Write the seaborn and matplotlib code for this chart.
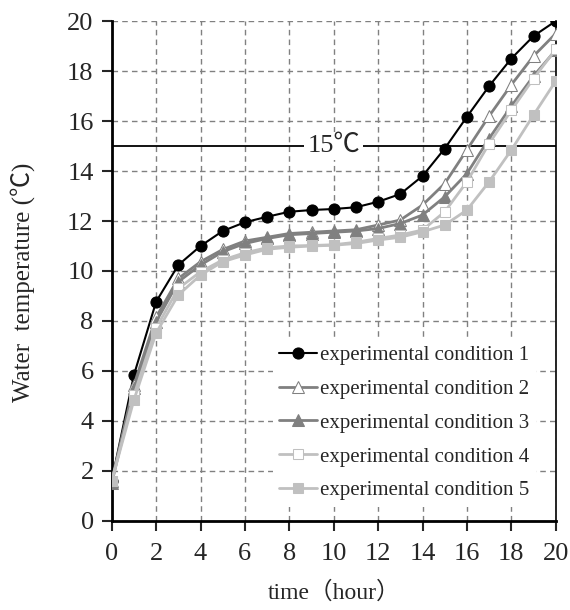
import pandas as pd
import matplotlib
matplotlib.use('Agg')
import matplotlib.pyplot as plt
import seaborn as sns

# data
hours = list(range(0, 21))
cond1 = [1.6, 5.84, 8.77, 10.24, 11.0, 11.6, 11.95, 12.17, 12.37, 12.44, 12.48,
         12.55, 12.77, 13.08, 13.8, 14.9, 16.17, 17.4, 18.5, 19.4, 20.0]
cond2 = [1.6, 5.44, 8.15, 9.7, 10.37, 10.86, 11.2, 11.35, 11.5, 11.55, 11.6,
         11.65, 11.84, 12.04, 12.64, 13.5, 14.85, 16.2, 17.45, 18.6, 19.5]
cond3 = [1.5, 5.3, 7.97, 9.57, 10.24, 10.77, 11.1, 11.3, 11.45, 11.5, 11.55,
         11.6, 11.7, 11.9, 12.24, 12.97, 13.9, 15.3, 16.6, 17.8, 18.84]
cond4 = [1.6, 5.04, 7.72, 9.3, 9.97, 10.44, 10.73, 10.93, 11.0, 11.02, 11.05,
         11.15, 11.3, 11.44, 11.64, 12.37, 13.57, 15.1, 16.43, 17.7, 18.87]
cond5 = [1.6, 4.84, 7.52, 9.04, 9.84, 10.37, 10.64, 10.87, 10.95, 11.0, 11.03,
         11.1, 11.24, 11.35, 11.57, 11.84, 12.44, 13.57, 14.84, 16.24, 17.6]
labels = ['experimental condition 1', 'experimental condition 2',
          'experimental condition 3', 'experimental condition 4',
          'experimental condition 5']
x_ticks = list(range(0, 21, 2))
y_ticks = list(range(0, 21, 2))

sns.set_style('white')
plt.rcParams['font.family'] = ['Liberation Serif', 'Noto Sans CJK JP', 'DejaVu Sans']

fig = plt.figure(figsize=(5.7, 6.1), dpi=100)
ax = fig.add_axes([0.196, 0.146, 0.779, 0.8195])

styles = [
    dict(color='black', marker='o', markerfacecolor='black', markeredgecolor='black', markersize=8, linewidth=1.5),
    dict(color='#808080', marker='^', markerfacecolor='white', markeredgecolor='#808080', markersize=8.5, linewidth=2),
    dict(color='#808080', marker='^', markerfacecolor='#808080', markeredgecolor='#808080', markersize=8.5, linewidth=2),
    dict(color='#c0c0c0', marker='s', markerfacecolor='white', markeredgecolor='#c0c0c0', markersize=7, linewidth=2),
    dict(color='#c0c0c0', marker='s', markerfacecolor='#c0c0c0', markeredgecolor='#c0c0c0', markersize=7, linewidth=2),
]
series = [cond1, cond2, cond3, cond4, cond5]

for vals, lab, st in zip(series, labels, styles):
    df = pd.DataFrame({'hour': hours, 'temp': vals})
    sns.lineplot(data=df, x='hour', y='temp', ax=ax, label=lab, zorder=3, **st)

# 15 degree reference line
ax.axhline(15, color='black', linewidth=1.3, zorder=2)
ax.text(10, 15, '15℃', ha='center', va='center', fontsize=19,
        bbox=dict(facecolor='white', edgecolor='none', pad=2), zorder=4)

ax.set_xlim(0, 20)
ax.set_ylim(0, 20)
ax.set_xticks(x_ticks)
ax.set_yticks(y_ticks)
ax.grid(True, linestyle=(0, (4, 3)), color='#808080', linewidth=1)
ax.set_axisbelow(True)

ax.spines['top'].set_visible(False)
ax.spines['left'].set_linewidth(2)
ax.spines['bottom'].set_linewidth(2)
ax.spines['right'].set_linewidth(1.2)
for s in ['left', 'bottom', 'right']:
    ax.spines[s].set_color('black')

ax.tick_params(axis='both', direction='out', length=7, width=1.5, labelsize=19,
               left=True, bottom=True)
ax.tick_params(axis='x', pad=9)
ax.tick_params(axis='y', pad=6)

ax.set_xlabel('time（hour）', fontsize=17)
ax.set_ylabel('Water  temperature (℃)', fontsize=18)
ax.xaxis.set_label_coords(0.5, -0.12)
ax.yaxis.set_label_coords(-0.172, 0.478)

leg = ax.legend(loc='lower right', bbox_to_anchor=(0.978, 0.008), frameon=True,
                fontsize=15, handlelength=1.8, handletextpad=0.15,
                labelspacing=0.68, borderpad=0.3)
leg.get_frame().set_facecolor('white')
leg.get_frame().set_edgecolor('none')
leg.get_frame().set_alpha(1)
leg.set_zorder(5)

fig.savefig('out.png', dpi=100)
